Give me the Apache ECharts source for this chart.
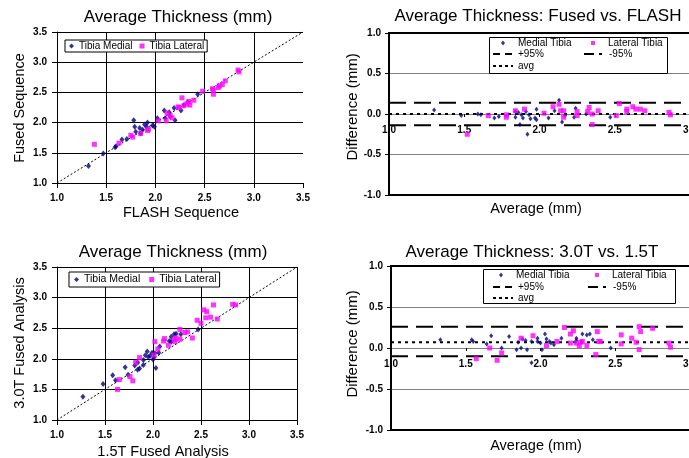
<!DOCTYPE html>
<html><head><meta charset="utf-8">
<script src="https://cdn.jsdelivr.net/npm/echarts@6/dist/echarts.min.js"></script>
<style>html,body{margin:0;padding:0;background:#fff}#c{width:689px;height:458px}</style>
</head><body><div id="c"></div>
<script>
// ---------- DATA ----------
const scatterTicks = [1.0, 1.5, 2.0, 2.5, 3.0, 3.5];
const diffTicks = [-1.0, -0.5, 0.0, 0.5, 1.0];
const identityLine = [[1.0, 1.0], [3.5, 3.5]];

// Panel 1: FLASH (x) vs Fused (y)
const flashFusedMedial = [[1.32,1.28],[1.47,1.49],[1.59,1.59],[1.60,1.61],[1.66,1.72],[1.71,1.73],[1.78,2.04],[1.79,1.93],[1.80,1.85],[1.84,1.91],[1.85,1.82],[1.87,1.88],[1.89,1.97],[1.91,1.93],[1.92,2.00],[1.97,1.95],[1.99,1.93],[2.02,2.07],[2.09,2.20],[2.10,2.07],[2.14,2.17],[2.15,2.10],[2.19,2.24],[2.20,2.04],[2.26,2.20],[2.29,2.29],[2.33,2.34],[2.43,2.47]];
const flashFusedLateral = [[1.38,1.64],[1.63,1.66],[1.75,1.79],[1.77,1.76],[1.85,1.82],[1.92,1.87],[1.93,1.89],[2.03,2.03],[2.11,2.03],[2.12,2.16],[2.15,2.12],[2.17,2.08],[2.23,2.26],[2.24,2.25],[2.27,2.41],[2.29,2.28],[2.32,2.31],[2.34,2.35],[2.35,2.29],[2.39,2.37],[2.48,2.52],[2.58,2.56],[2.59,2.47],[2.59,2.54],[2.64,2.58],[2.65,2.61],[2.68,2.63],[2.71,2.69],[2.84,2.87],[2.85,2.84]];

// Panel 2: Bland-Altman Fused vs FLASH (average, difference)
const baFusedMedial = [[1.30,0.05],[1.48,-0.02],[1.59,0.00],[1.61,-0.01],[1.70,-0.05],[1.73,-0.03],[1.84,0.03],[1.84,-0.04],[1.86,0.02],[1.87,-0.13],[1.88,-0.01],[1.89,-0.05],[1.91,0.03],[1.92,-0.25],[1.93,-0.01],[1.94,-0.06],[1.97,-0.05],[1.98,0.06],[1.98,-0.07],[2.06,-0.05],[2.10,0.04],[2.13,0.17],[2.15,-0.10],[2.17,-0.02],[2.23,-0.04],[2.24,0.07],[2.31,0.00],[2.47,-0.04]];
const baFusedLateral = [[1.52,-0.25],[1.66,-0.02],[1.78,-0.01],[1.78,-0.04],[1.84,0.04],[1.90,0.06],[2.03,0.01],[2.09,0.09],[2.13,0.12],[2.14,0.04],[2.16,0.04],[2.16,-0.04],[2.25,-0.02],[2.25,0.03],[2.32,0.03],[2.33,0.08],[2.35,0.00],[2.35,-0.13],[2.39,0.04],[2.51,-0.02],[2.53,0.13],[2.58,0.06],[2.58,0.03],[2.62,0.09],[2.64,0.06],[2.67,0.06],[2.70,0.04],[2.86,0.02],[2.87,-0.01]];
const baFusedLimits = {upper: 0.14, lower: -0.14, avg: 0.0};

// Panel 3: 1.5T (x) vs 3.0T (y)
const t15t30Medial = [[1.27,1.38],[1.48,1.59],[1.58,1.73],[1.61,1.65],[1.71,1.86],[1.74,1.74],[1.81,1.89],[1.84,1.94],[1.84,1.82],[1.86,1.84],[1.90,1.98],[1.90,1.90],[1.92,2.06],[1.94,2.12],[1.95,2.03],[1.97,2.05],[1.99,2.10],[2.00,1.99],[2.01,2.02],[2.02,2.09],[2.03,1.85],[2.06,2.10],[2.07,2.20],[2.17,2.29],[2.19,2.36],[2.22,2.40],[2.24,2.41],[2.19,2.28],[2.29,2.40],[2.47,2.48]];
const t15t30Lateral = [[1.63,1.50],[1.65,1.66],[1.76,1.71],[1.79,1.64],[1.86,2.02],[1.82,1.94],[2.01,2.06],[2.02,2.28],[2.05,2.16],[2.11,2.29],[2.12,2.33],[2.16,2.22],[2.22,2.32],[2.23,2.28],[2.24,2.34],[2.28,2.48],[2.28,2.32],[2.33,2.43],[2.36,2.44],[2.41,2.34],[2.46,2.63],[2.50,2.58],[2.53,2.80],[2.56,2.77],[2.55,2.67],[2.60,2.68],[2.63,2.88],[2.67,2.65],[2.83,2.89],[2.86,2.88]];

// Panel 4: Bland-Altman 3.0T vs 1.5T
const baFieldMedial = [[1.33,0.10],[1.54,0.10],[1.55,0.08],[1.64,0.05],[1.67,0.15],[1.74,0.00],[1.79,0.14],[1.84,-0.02],[1.85,0.07],[1.87,0.00],[1.88,0.11],[1.90,0.09],[1.91,-0.02],[1.94,0.08],[1.94,-0.18],[1.98,0.08],[1.98,0.12],[2.00,0.06],[2.01,-0.02],[2.03,0.17],[2.04,0.11],[2.06,0.08],[2.07,0.06],[2.09,0.04],[2.14,0.12],[2.24,0.12],[2.24,0.09],[2.28,0.17],[2.31,0.16],[2.33,0.17],[2.35,0.10],[2.47,0.00]];
const baFieldLateral = [[1.57,-0.13],[1.66,0.00],[1.71,-0.15],[1.74,-0.06],[1.87,0.12],[1.95,0.15],[2.04,0.03],[2.11,0.08],[2.16,0.25],[2.20,0.06],[2.20,0.17],[2.22,0.21],[2.24,0.06],[2.26,0.03],[2.27,0.07],[2.28,0.08],[2.31,0.03],[2.37,-0.08],[2.38,0.20],[2.39,0.08],[2.40,0.08],[2.54,0.16],[2.54,0.05],[2.61,0.12],[2.64,0.07],[2.66,0.26],[2.66,-0.02],[2.67,0.20],[2.75,0.24],[2.86,0.06],[2.87,0.01]];
const baFieldLimits = {upper: 0.26, lower: -0.10, avg: 0.07};

const baRange = [1.0, 3.0];

// ---------- STYLE / LAYOUT ----------
const FONT = '"Liberation Sans", Arial, sans-serif';
const NAVY = '#000080', MAG = '#FF00FF';
const grids = [
  {left: 57, top: 32, width: 246, height: 151, outerBoundsMode: 'none', containLabel: false},
  {left: 389, top: 33, width: 301, height: 162, outerBoundsMode: 'none', containLabel: false, show: true, borderColor: '#000', borderWidth: 2, backgroundColor: 'transparent'},
  {left: 57, top: 267, width: 240, height: 153, outerBoundsMode: 'none', containLabel: false},
  {left: 391, top: 266, width: 299, height: 164, outerBoundsMode: 'none', containLabel: false, show: true, borderColor: '#000', borderWidth: 2, backgroundColor: 'transparent'}
];
const chart = echarts.init(document.getElementById('c'), null, {renderer: 'canvas'});

function scatterAxis(grid, showMax) {
  return {
    type: 'value', gridIndex: grid,
    min: scatterTicks[0], max: scatterTicks[scatterTicks.length - 1], interval: 0.5,
    axisLine: {show: true, onZero: false, lineStyle: {color: '#000', width: 1}},
    axisTick: {show: true, length: 5, lineStyle: {color: '#000'}},
    axisLabel: {formatter: v => v.toFixed(1), fontFamily: FONT, fontWeight: 'bold', fontSize: 10, color: '#000', margin: 10},
    splitLine: {show: true, showMinLine: false, showMaxLine: showMax, lineStyle: {color: '#000', width: 1}}
  };
}
// x axis of a difference plot crosses the y axis at difference = 0
function baXAxis(grid) {
  const h = grids[grid].height;
  const yMin = diffTicks[0], yMax = diffTicks[diffTicks.length - 1];
  const zeroOffset = -h * (0 - yMin) / (yMax - yMin);
  return {
    type: 'value', gridIndex: grid, min: baRange[0], max: baRange[1], interval: 0.5,
    position: 'bottom', offset: zeroOffset,
    axisLine: {show: true, onZero: false, lineStyle: {color: '#808080', width: 1}},
    axisTick: {show: true, length: 3, lineStyle: {color: '#000'}},
    axisLabel: {formatter: v => v.toFixed(1), fontFamily: FONT, fontWeight: 'bold', fontSize: 10, color: '#000', margin: 11,
                showMinLabel: true, showMaxLabel: true},
    splitLine: {show: false}
  };
}
function baYAxis(grid) {
  return {
    type: 'value', gridIndex: grid, min: diffTicks[0], max: diffTicks[diffTicks.length - 1], interval: 0.5,
    axisLine: {show: true, onZero: false, lineStyle: {color: '#000', width: 2}},
    axisTick: {show: true, length: 4, lineStyle: {color: '#000'}},
    axisLabel: {formatter: v => v.toFixed(1), fontFamily: FONT, fontWeight: 'bold', fontSize: 10, color: '#000', margin: 8},
    splitLine: {show: true, showMinLine: false, showMaxLine: false, lineStyle: {color: '#808080', width: 1}}
  };
}
function pts(name, data, xi, medial, size) {
  return {
    type: 'scatter', name: name, xAxisIndex: xi, yAxisIndex: xi, data: data,
    symbol: medial ? 'diamond' : 'rect', symbolSize: medial ? [size, size + 1] : size,
    itemStyle: {color: medial ? NAVY : MAG}, z: 4, silent: true
  };
}
function hline(name, level, xi, dash) {
  return {
    type: 'line', name: name, xAxisIndex: xi, yAxisIndex: xi,
    data: baRange.map(x => [x, level]), symbol: 'none', silent: true, z: 3,
    lineStyle: {color: '#000', width: 2, type: dash}
  };
}
function title(text, x, y) {
  return {text: text, left: x, top: y, textAlign: 'center', padding: 0,
    textStyle: {fontFamily: FONT, fontWeight: 'normal', fontSize: 17, color: '#000'}};
}
function axisTitle(text, x, y, rot, size) {
  return {type: 'text', x: x, y: y, rotation: rot ? Math.PI / 2 : 0, z: 10,
    style: {text: text, font: (size || 14.5) + 'px ' + FONT, fill: '#000', align: 'center', verticalAlign: 'middle'}};
}
const noIcon = {color: 'rgba(0,0,0,0)', borderColor: 'rgba(0,0,0,0)', borderWidth: 0};
function smallLegend(name, x, y, opts) {
  return Object.assign({
    data: [name], left: x, top: y, padding: 0, itemGap: 0, selectedMode: false, z: 6,
    itemWidth: 4, itemHeight: 5,
    textStyle: {fontFamily: FONT, fontSize: 10, color: '#000', padding: [0, 0, 0, 8]}
  }, opts || {});
}
function lineLegend(name, x, y, dash) {
  return {
    data: [name], left: x, top: y, padding: 0, selectedMode: false, z: 6,
    itemWidth: 20, itemHeight: 10,
    itemStyle: noIcon,
    lineStyle: {color: '#000', width: 2, type: dash},
    textStyle: {fontFamily: FONT, fontSize: 10, color: '#000', padding: [0, 0, 0, 0]}
  };
}

const option = {
  backgroundColor: '#fff',
  animation: false,
  title: [
    title('Average Thickness (mm)', 178, 9),
    title('Average Thickness: Fused vs. FLASH', 538, 8),
    title('Average Thickness (mm)', 173, 244),
    title('Average Thickness: 3.0T vs. 1.5T', 532, 244)
  ],
  grid: grids,
  xAxis: [scatterAxis(0, false), baXAxis(1), scatterAxis(2, true), baXAxis(3)],
  yAxis: [scatterAxis(0, true), baYAxis(1), scatterAxis(2, true), baYAxis(3)],
  legend: [
    {data: ['Tibia Medial', 'Tibia Lateral'], left: 65, top: 40, padding: [1, 3, 1, 4], itemGap: 7,
     itemWidth: 5, itemHeight: 5, borderColor: '#000', borderWidth: 1, selectedMode: false, backgroundColor: '#fff',
     textStyle: {fontFamily: FONT, fontSize: 10, color: '#000'}},
    {data: ['Tibia Medial', 'Tibia Lateral'], left: 69, top: 272, padding: [2, 3, 2, 5], itemGap: 9,
     itemWidth: 5, itemHeight: 5, borderColor: '#000', borderWidth: 1, selectedMode: false, backgroundColor: '#fff',
     textStyle: {fontFamily: FONT, fontSize: 10.5, color: '#000'}},
    smallLegend('Medial Tibia', 501, 38),
    smallLegend('Lateral Tibia', 591, 38, {itemHeight: 4}),
    lineLegend('+95%', 492, 49, [7, 5]),
    lineLegend('-95%', 583, 49, [10, 5, 3, 5]),
    lineLegend('avg', 492, 61, [3, 3]),
    smallLegend('Medial Tibia', 499, 270),
    smallLegend('Lateral Tibia', 595, 270, {itemHeight: 4}),
    lineLegend('+95%', 492, 282, [7, 5]),
    lineLegend('-95%', 587, 282, [10, 5, 3, 5]),
    lineLegend('avg', 492, 293, [3, 3])
  ],
  graphic: [
    {type: 'rect', z: 5, shape: {x: 489.5, y: 37.5, width: 178, height: 36}, style: {fill: '#fff', stroke: '#000', lineWidth: 1}},
    {type: 'rect', z: 5, shape: {x: 483.5, y: 269.5, width: 192, height: 34}, style: {fill: '#fff', stroke: '#000', lineWidth: 1}},
    axisTitle('FLASH Sequence', 181, 213, false),
    axisTitle('Fused Sequence', 20, 108, true),
    axisTitle('Average (mm)', 536, 209, false),
    axisTitle('Difference (mm)', 353, 107, true, 15),
    axisTitle('1.5T Fused Analysis', 163, 452, false),
    axisTitle('3.0T Fused Analysis', 20, 343, true),
    axisTitle('Average (mm)', 536, 446, false),
    axisTitle('Difference (mm)', 353, 344, true, 15)
  ],
  series: [
    {type: 'line', name: 'identity', xAxisIndex: 0, yAxisIndex: 0, data: identityLine, symbol: 'none', silent: true, z: 3,
     lineStyle: {color: '#000', width: 1, type: [2, 2]}},
    pts('Tibia Medial', flashFusedMedial, 0, true, 5),
    pts('Tibia Lateral', flashFusedLateral, 0, false, 5),
    hline('+95%', baFusedLimits.upper, 1, [17, 8]),
    hline('-95%', baFusedLimits.lower, 1, [17, 8]),
    hline('avg', baFusedLimits.avg, 1, [3, 4]),
    pts('Medial Tibia', baFusedMedial, 1, true, 4),
    pts('Lateral Tibia', baFusedLateral, 1, false, 5),
    {type: 'line', name: 'identity2', xAxisIndex: 2, yAxisIndex: 2, data: identityLine, symbol: 'none', silent: true, z: 3,
     lineStyle: {color: '#000', width: 1, type: [2, 2]}},
    pts('Tibia Medial', t15t30Medial, 2, true, 5),
    pts('Tibia Lateral', t15t30Lateral, 2, false, 5),
    hline('+95%', baFieldLimits.upper, 3, [17, 8]),
    hline('-95%', baFieldLimits.lower, 3, [17, 8]),
    hline('avg', baFieldLimits.avg, 3, [3, 4]),
    pts('Medial Tibia', baFieldMedial, 3, true, 4),
    pts('Lateral Tibia', baFieldLateral, 3, false, 5)
  ]
};
chart.setOption(option);
</script>
</body></html>
